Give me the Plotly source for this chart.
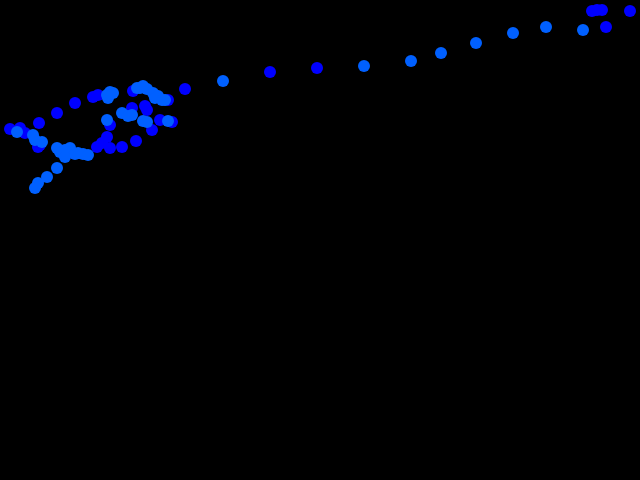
import plotly.graph_objects as go

# Series A (deep blue)
a_x = [10, 20, 25, 39, 57, 75, 93, 98, 40, 38, 97, 102, 107, 110, 110, 122, 136, 152,
       132, 145, 147, 133, 168, 160, 172, 185, 270, 317, 592, 597, 602, 606, 630]
a_y = [351, 352, 347, 357, 367, 377, 383, 385, 335, 333, 333, 337, 343, 355, 332, 333, 339, 350,
       372, 374, 370, 389, 380, 360, 358, 391, 408, 412, 469, 470, 470, 453, 469]

# Series B (lighter blue)
b_x = [17, 33, 35, 42, 57, 60, 65, 70, 65, 75, 78, 83, 88, 57, 47, 38, 35,
       107, 110, 113, 108, 107, 122, 128, 132,
       137, 140, 143, 147, 153, 155, 158, 162, 165, 143, 147, 168, 223,
       364, 411, 441, 476, 513, 546, 583]
b_y = [348, 345, 340, 338, 332, 328, 330, 332, 323, 326, 327, 326, 325, 312, 303, 297, 292,
       385, 388, 387, 382, 360, 367, 364, 365,
       392, 392, 394, 391, 387, 382, 384, 380, 380, 359, 358, 359, 399,
       414, 419, 427, 437, 447, 453, 450]

fig = go.Figure()
fig.add_trace(go.Scatter(x=a_x, y=a_y, mode="markers",
                         marker=dict(color="#0000ff", size=12, line=dict(width=0)),
                         showlegend=False))
fig.add_trace(go.Scatter(x=b_x, y=b_y, mode="markers",
                         marker=dict(color="#0060ff", size=12, line=dict(width=0)),
                         showlegend=False))
fig.update_layout(
    width=640, height=480,
    margin=dict(l=0, r=0, t=0, b=0),
    paper_bgcolor="black", plot_bgcolor="black",
    xaxis=dict(range=[0, 640], visible=False),
    yaxis=dict(range=[0, 480], visible=False),
)
fig.write_html("out.html", config={"displayModeBar": False},
               post_script="document.body.style.margin='0';document.body.style.background='black';")
